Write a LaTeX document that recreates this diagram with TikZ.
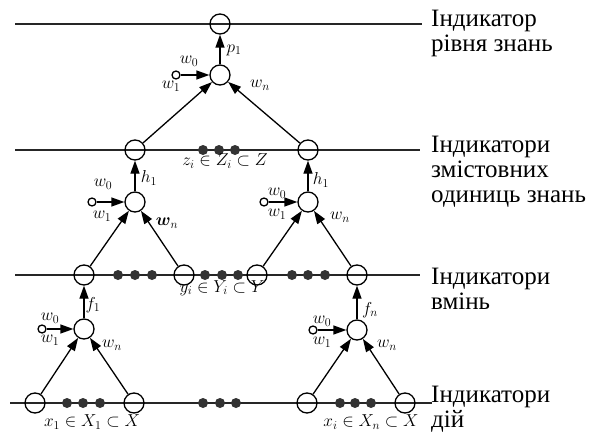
\documentclass[tikz,border=0pt]{standalone}
\usepackage{amsmath,amssymb}
\usepackage{fontspec}
\setmainfont{Liberation Serif}
\usetikzlibrary{arrows.meta,positioning}

\tikzset{
  rivn/.style={line width=1.5pt, black!85},
  kolo/.style={circle, draw, line width=1.3pt, minimum size=20pt, inner sep=0pt},
  neuron/.style={circle, draw, line width=1.3pt, fill=white, minimum size=20pt, inner sep=0pt},
  vhid/.style={circle, draw, line width=1.3pt, fill=white, minimum size=8pt, inner sep=0pt},
  tochka/.style={circle, fill=black!80, minimum size=10pt, inner sep=0pt},
  zv/.style={line width=1.3pt, -{Triangle[length=13pt,width=9pt]}},
  vaga/.style={font=\fontsize{17}{17}\selectfont, inner sep=0pt},
  pidpys/.style={font=\fontsize{25}{25}\selectfont, align=left, anchor=north west, inner sep=0pt},
}

\begin{document}
\begin{tikzpicture}[x=1pt, y=-1pt]
    \useasboundingbox (0,0) rectangle (591,433);
    % рівні
    \foreach \n/\xa/\xb/\y in {1/15/422/24, 2/15/420/150, 3/15/420/275, 4/10/432/403} {
        \coordinate (l\n a) at (\xa,\y);
        \coordinate (l\n b) at (\xb,\y);
        \draw[rivn] (l\n a) -- (l\n b);
    }
    % точки між вузлами
    \foreach \x in {203,219,235} {
        \node[tochka] at (\x,150) {};
    }
    \foreach \x in {118,135,152, 205,222,238, 292,308,325} {
        \node[tochka] at (\x,275) {};
    }
    \foreach \x in {67,83,100, 203,220,236, 340,355,371} {
        \node[tochka] at (\x,403) {};
    }
    % вузли на рівнях
    \node[kolo] (p1) at (220,24) {};
    \node[kolo] (z1) at (135,150) {};
    \node[kolo] (z2) at (308,150) {};
    \node[kolo] (y1) at (84,275) {};
    \node[kolo] (y2) at (184,275) {};
    \node[kolo] (y3) at (257,275) {};
    \node[kolo] (y4) at (357,275) {};
    \node[kolo] (x1) at (35,403) {};
    \node[kolo] (x2) at (134,403) {};
    \node[kolo] (x3) at (307,403) {};
    \node[kolo] (x4) at (405,403) {};
    % нейрони та входи
    \node[neuron] (s0) at (220,75) {};
    \node[vhid] (i0) at (176,75) {};
    \node[neuron] (s1) at (135,202) {};
    \node[vhid] (i1) at (92,202) {};
    \node[neuron] (s2) at (308,202) {};
    \node[vhid] (i2) at (264,202) {};
    \node[neuron] (s3) at (84,329) {};
    \node[vhid] (i3) at (42,329) {};
    \node[neuron] (s4) at (357,330) {};
    \node[vhid] (i4) at (313,330) {};
    % зв'язки
    \foreach \s/\i/\a/\b/\o in {s0/i0/z1/z2/p1, s1/i1/y1/y2/z1, s2/i2/y3/y4/z2, s3/i3/x1/x2/y1, s4/i4/x3/x4/y4} {
        \draw[zv] (\i) -- (\s);
        \draw[zv] (\a) -- (\s);
        \draw[zv] (\b) -- (\s);
        \draw[zv] (\s) -- (\o);
    }
    % ваги
    \node[vaga] (w00) at (189,61) {$w_0$};
    \node[vaga] (w01) at (171,86) {$w_1$};
    \node[vaga] (w0n) at (260,85) {$w_n$};
    \node[vaga] (lp1) at (234,50) {$p_1$};
    \node[vaga] (w10) at (103,184) {$w_0$};
    \node[vaga] (w11) at (102,216) {$w_1$};
    \node[vaga] (w1n) at (167,223) {$\boldsymbol{w}_n$};
    \node[vaga] (lh1) at (149,178) {$h_1$};
    \node[vaga] (w20) at (277,193) {$w_0$};
    \node[vaga] (w21) at (277,214) {$w_1$};
    \node[vaga] (w2n) at (340,217) {$w_n$};
    \node[vaga] (lh2) at (321,180) {$h_1$};
    \node[vaga] (w30) at (50,318) {$w_0$};
    \node[vaga] (w31) at (50,340) {$w_1$};
    \node[vaga] (w3n) at (112,345) {$w_n$};
    \node[vaga] (lf1) at (93,305) {$f_1$};
    \node[vaga] (w40) at (322,321) {$w_0$};
    \node[vaga] (w41) at (322,342) {$w_1$};
    \node[vaga] (w4n) at (387,345) {$w_n$};
    \node[vaga] (lfn) at (370,310) {$f_n$};
    % множини
    \node[vaga] (mz) at (225,161) {$z_i \in Z_i \subset Z$};
    \node[vaga] (my) at (222,288) {$y_i \in Y_i \subset Y$};
    \node[vaga] (mx1) at (92,422) {$x_1 \in X_1 \subset X$};
    \node[vaga] (mxn) at (371,422) {$x_i \in X_n \subset X$};
    % підписи рівнів
    \node[pidpys] (t1) at (431,10) {Індикатор\\рівня знань};
    \node[pidpys] (t2) at (431,136) {Індикатори\\змістовних\\одиниць знань};
    \node[pidpys] (t3) at (431,268) {Індикатори\\вмінь};
    \node[pidpys] (t4) at (431,386) {Індикатори\\дій};
\end{tikzpicture}
\end{document}
